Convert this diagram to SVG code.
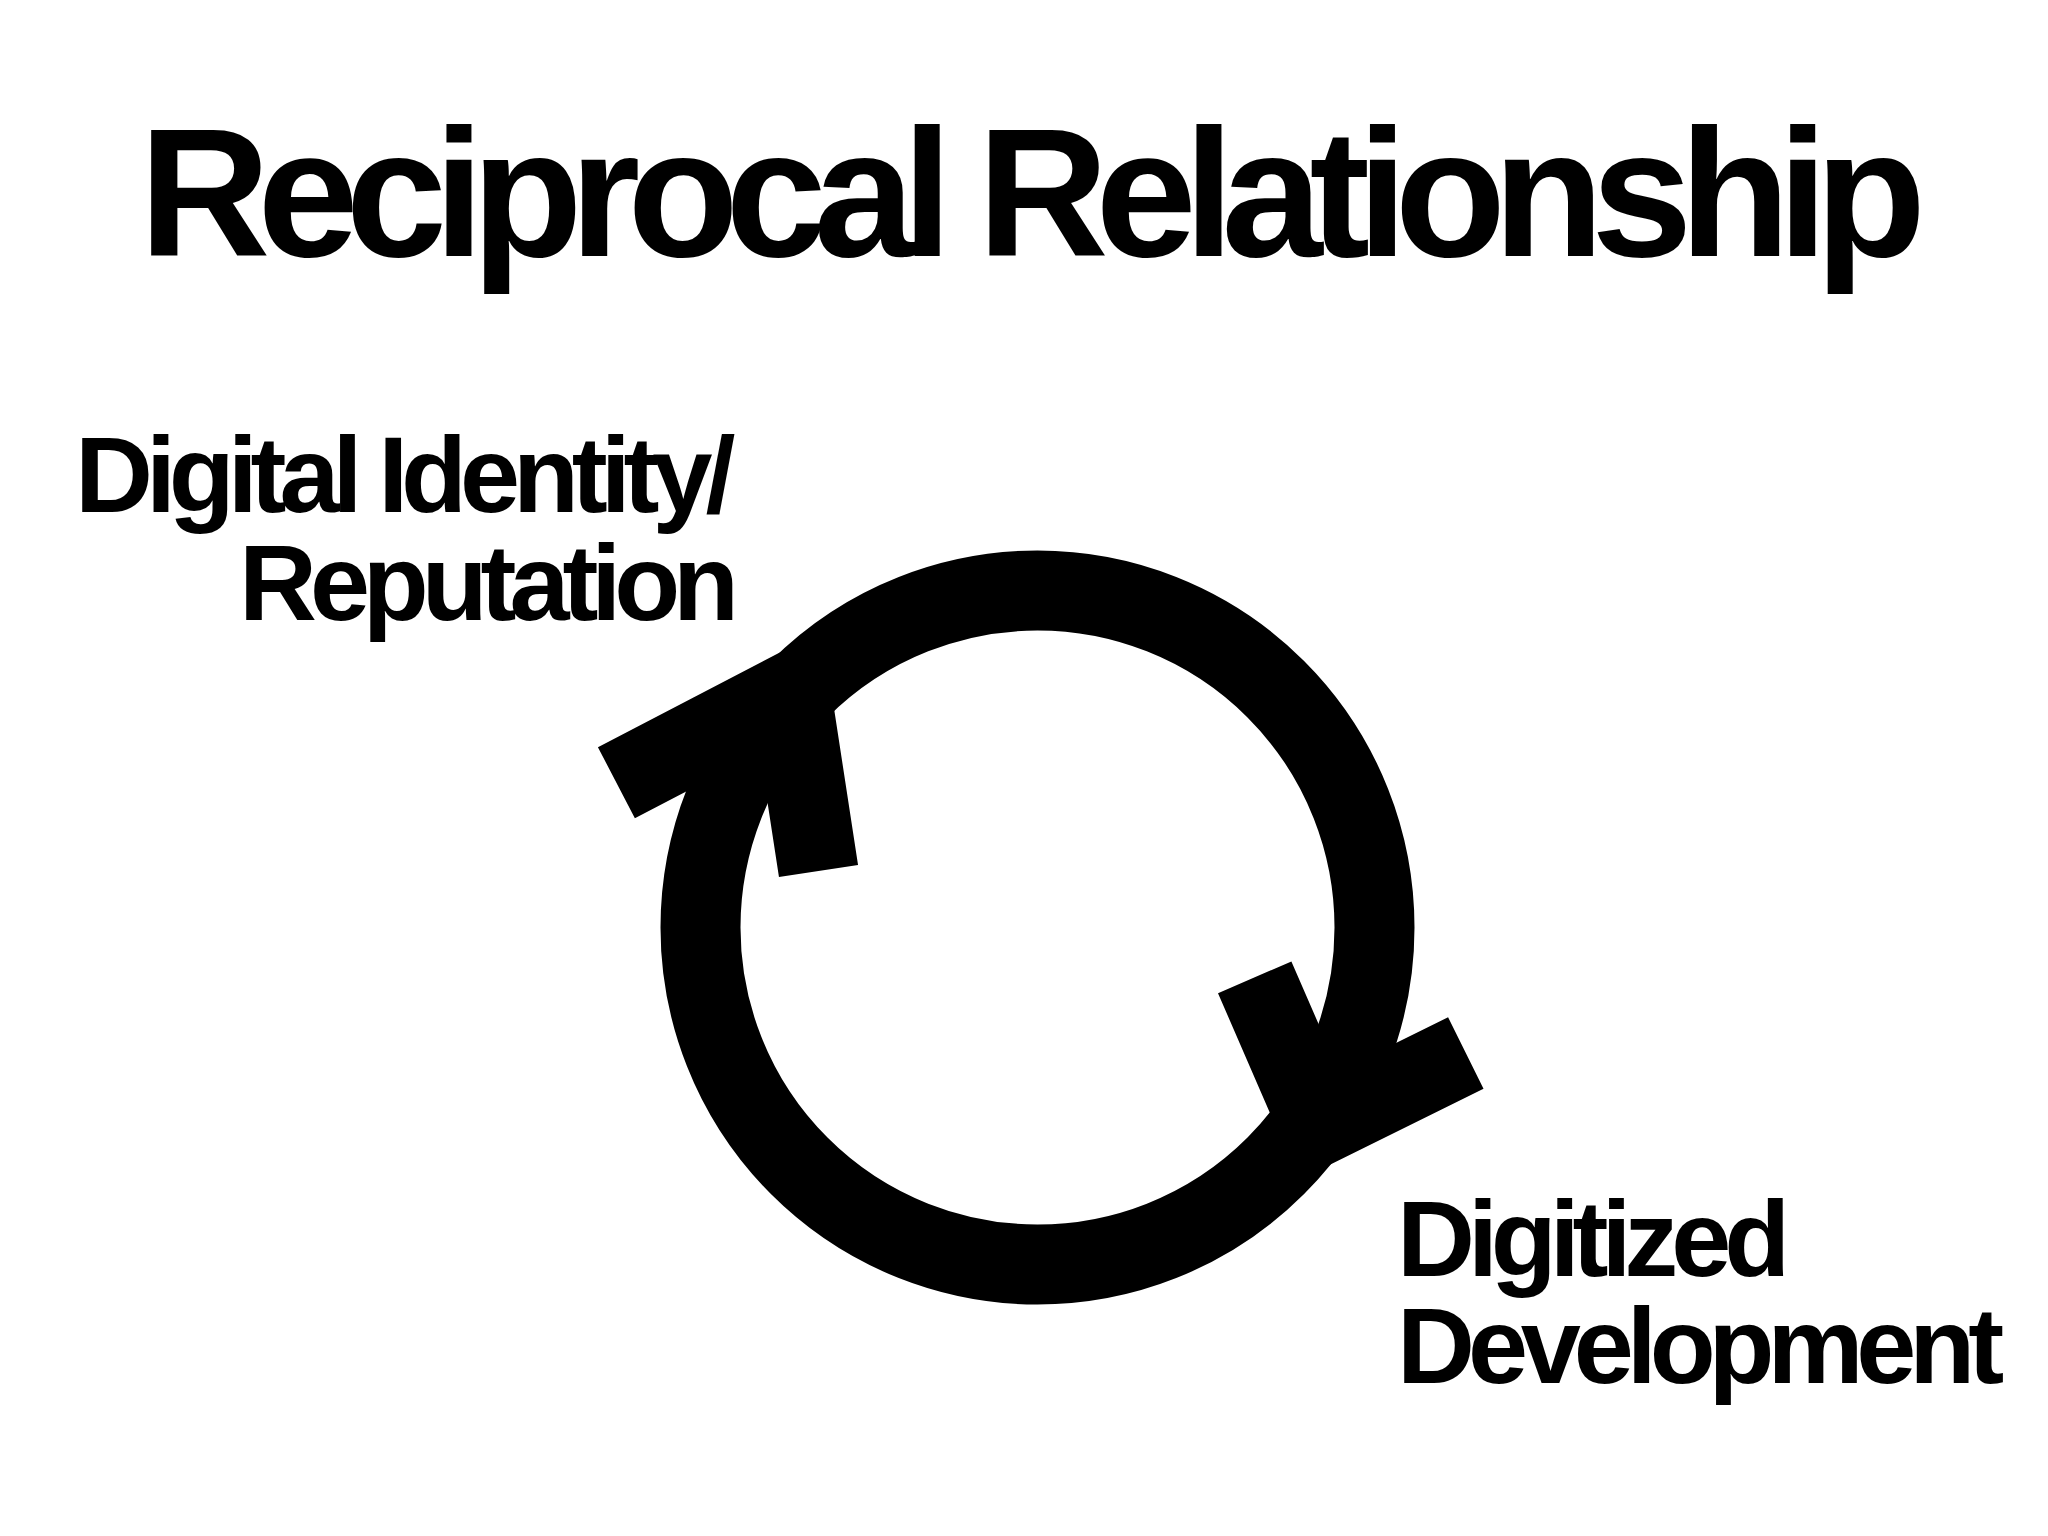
<svg xmlns="http://www.w3.org/2000/svg" width="2048" height="1536" viewBox="0 0 2048 1536">
  <style>
    .t { font-family: "Liberation Sans", Arial, Helvetica, sans-serif; font-weight: bold; fill: #000; }
    .title { font-size: 182px; letter-spacing: -13px; }
    .lbl { font-size: 108px; letter-spacing: -7.1px; }
    .ring { fill: none; stroke: #000; stroke-width: 80; }
    .head { fill: none; stroke: #000; stroke-width: 80; stroke-linecap: butt; stroke-linejoin: miter; stroke-miterlimit: 10; }
  </style>
  <rect x="0" y="0" width="2048" height="1536" fill="#fff"/>
  <g id="title">
    <text class="t title" x="139" y="256">Reciprocal Relationship</text>
  </g>
  <g id="node-digital-identity">
    <text class="t lbl"><tspan x="75" y="512">Digital Identity/</tspan><tspan x="239" y="620">Reputation</tspan></text>
  </g>
  <g id="node-digitized-development">
    <text class="t lbl"><tspan x="1397" y="1276">Digitized</tspan><tspan x="1397" y="1383">Development</tspan></text>
  </g>
  <g id="connectors">
    <circle class="ring" cx="1037.5" cy="927.5" r="337"/>
    <polyline class="head" points="616.4,782.7 791,691.8 818.5,871"/>
    <polyline class="head" points="1254.7,977.3 1319,1125.5 1465.8,1053"/>
  </g>
</svg>
